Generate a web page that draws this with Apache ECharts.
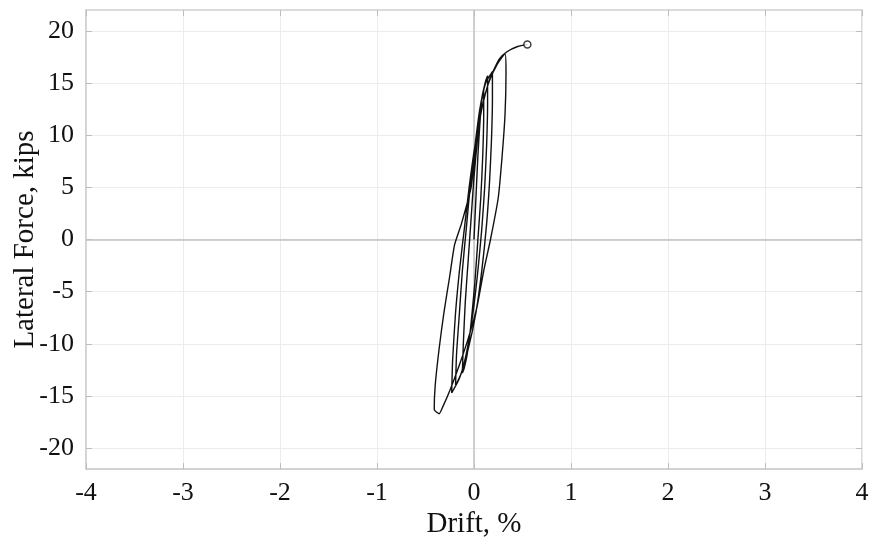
<!DOCTYPE html>
<html>
<head>
<meta charset="utf-8">
<script src="https://cdn.jsdelivr.net/npm/echarts@6/dist/echarts.min.js"></script>
<style>html,body{margin:0;padding:0;background:#fff}#c{width:872px;height:544px}</style>
</head>
<body>
<div id="c"></div>
<script>
// Drift (%) and lateral force (kips), read along the hysteresis path
const drift = [
  0.00, 0.02, 0.04, 0.06, 0.08, 0.10,
  0.10, 0.09, 0.07, 0.04, 0.01, -0.03, -0.07, -0.10, -0.12,
  -0.11, -0.09, -0.06, -0.03, 0.00, 0.04, 0.08, 0.12, 0.14,
  0.14, 0.13, 0.11, 0.08, 0.04, -0.01, -0.07, -0.13, -0.19,
  -0.18, -0.15, -0.12, -0.08, -0.04, 0.01, 0.06, 0.12, 0.19,
  0.19, 0.18, 0.16, 0.13, 0.08, 0.02, -0.06, -0.15, -0.23,
  -0.22, -0.19, -0.15, -0.10, -0.05, 0.01, 0.08, 0.15, 0.24, 0.32,
  0.33, 0.32, 0.29, 0.25, 0.17, 0.10, 0.03, -0.06, -0.15, -0.25, -0.32, -0.36, -0.41,
  -0.40, -0.36, -0.31, -0.25, -0.20, -0.13, -0.03, 0.02, 0.08, 0.16, 0.26, 0.34, 0.45, 0.55
];
const force = [
  0.0, 4.0, 8.0, 11.0, 13.3, 14.4,
  12.0, 8.0, 4.0, 0.0, -4.0, -8.0, -11.0, -12.3, -12.8,
  -10.0, -6.0, -2.0, 2.0, 6.0, 10.0, 13.5, 15.2, 15.7,
  13.0, 9.0, 5.0, 1.0, -3.0, -7.0, -10.5, -12.8, -14.0,
  -11.0, -7.0, -3.0, 1.0, 5.0, 9.0, 12.5, 15.0, 16.1,
  13.5, 9.5, 5.5, 1.5, -3.0, -7.0, -10.5, -13.3, -14.7,
  -11.5, -7.0, -3.0, 1.0, 5.0, 9.0, 12.5, 15.0, 16.8, 17.8,
  16.0, 12.0, 8.0, 4.0, 0.0, -3.0, -6.5, -9.5, -12.0, -14.5, -16.0, -16.7, -16.3,
  -14.0, -10.5, -7.0, -3.5, -0.5, 1.5, 5.0, 9.0, 12.5, 15.3, 17.3, 18.0, 18.5, 18.7
];
const xTicks = [-4, -3, -2, -1, 0, 1, 2, 3, 4];
const yTicks = [-20, -15, -10, -5, 0, 5, 10, 15, 20];
const xTitle = 'Drift, %';
const yTitle = 'Lateral Force, kips';

const pts = drift.map((d, i) => [d, force[i]]);
const last = pts[pts.length - 1];
const font = 'Liberation Serif';
const gridColor = '#ececec';
const frameColor = '#d0d0d0';
const tickColor = '#bdbdbd';

const chart = echarts.init(document.getElementById('c'), null, {renderer: 'canvas'});
chart.setOption({
  animation: false,
  backgroundColor: '#fff',
  grid: {left: 86, right: 10, top: 10, bottom: 75, containLabel: false, outerBoundsMode: 'none',
    show: true, borderColor: frameColor, borderWidth: 1.5, backgroundColor: '#fff'},
  xAxis: [{
    type: 'value', min: -4, max: 4, interval: 1,
    name: xTitle, nameLocation: 'middle', nameGap: 41, nameMoveOverlap: false,
    nameTextStyle: {fontFamily: font, fontSize: 29, color: '#111'},
    axisLine: {show: true, onZero: false, lineStyle: {color: frameColor, width: 1.5}},
    axisTick: {show: true, inside: true, length: 6, lineStyle: {color: tickColor}},
    axisLabel: {fontFamily: font, fontSize: 26, color: '#111', margin: 11,
      customValues: xTicks, formatter: v => String(v)},
    splitLine: {show: true, lineStyle: {color: gridColor, width: 1}}
  }, {
    type: 'value', min: -4, max: 4, interval: 1, position: 'top',
    axisLine: {show: false, onZero: false},
    axisTick: {show: true, inside: true, length: 6, lineStyle: {color: tickColor}},
    axisLabel: {show: false}, splitLine: {show: false}
  }],
  yAxis: [{
    type: 'value', min: -22, max: 22,
    name: yTitle, nameLocation: 'middle', nameGap: 46, nameMoveOverlap: false,
    nameTextStyle: {fontFamily: font, fontSize: 29, color: '#111'},
    axisLine: {show: true, onZero: false, lineStyle: {color: frameColor, width: 1.5}},
    axisTick: {show: true, inside: true, length: 6, lineStyle: {color: tickColor}, customValues: yTicks},
    axisLabel: {fontFamily: font, fontSize: 26, color: '#111', margin: 12,
      customValues: yTicks, formatter: v => String(v)},
    splitLine: {show: true, lineStyle: {color: gridColor, width: 1}}
  }, {
    type: 'value', min: -22, max: 22, position: 'right',
    axisLine: {show: false, onZero: false},
    axisTick: {show: true, inside: true, length: 6, lineStyle: {color: tickColor}, customValues: yTicks},
    axisLabel: {show: false}, splitLine: {show: false}
  }],
  series: [{
    type: 'line',
    data: pts,
    showSymbol: false,
    smooth: 0.2,
    smoothMonotone: null,
    lineStyle: {color: '#111', width: 1.4},
    z: 5,
    markLine: {
      silent: true, symbol: 'none', label: {show: false},
      lineStyle: {color: '#c2c2c2', width: 1.5, type: 'solid'},
      data: [{xAxis: 0}, {yAxis: 0}],
      z: 1
    }
  }, {
    type: 'scatter',
    data: [last],
    symbol: 'circle', symbolSize: 7,
    itemStyle: {color: '#fff', borderColor: '#111', borderWidth: 1.5},
    z: 6
  }]
});
</script>
</body>
</html>
